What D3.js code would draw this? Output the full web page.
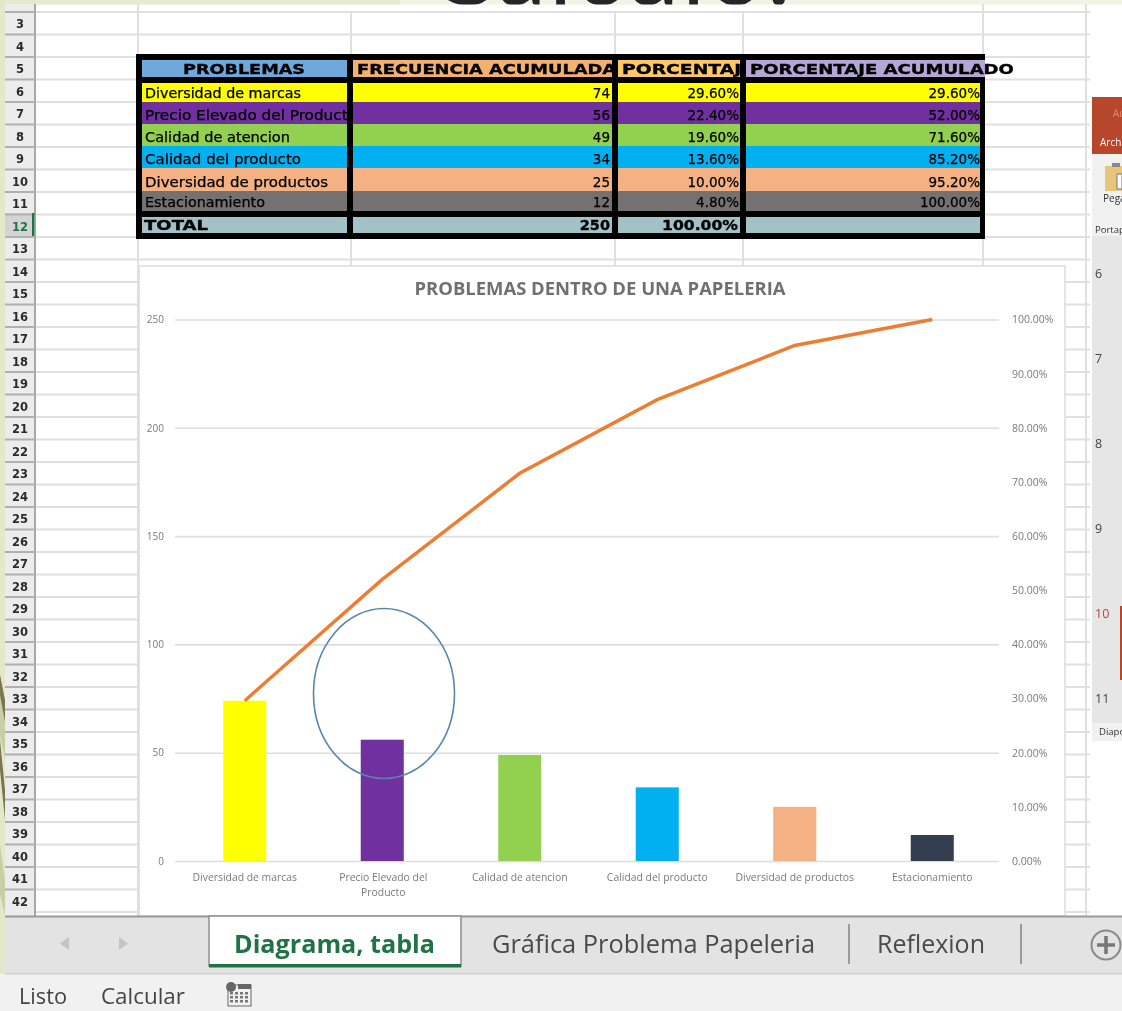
<!DOCTYPE html>
<html><head><meta charset="utf-8">
<script src="https://cdnjs.cloudflare.com/ajax/libs/d3/7.8.5/d3.min.js"></script>
<style>
html,body{margin:0;padding:0;background:#fff;overflow:hidden}
svg{display:block;filter:blur(.6px)}
text{font-family:"DejaVu Sans",sans-serif}
</style></head><body>
<svg id="c" width="1122" height="1011"></svg>
<script>
// ---- data ----
const categories=["Diversidad de marcas","Precio Elevado del Producto","Calidad de atencion","Calidad del producto","Diversidad de productos","Estacionamiento"];
const frequency=[74,56,49,34,25,12];
const percentage=[29.6,22.4,19.6,13.6,10,4.8];
const cumulative=[29.6,52,71.6,85.2,95.2,100];
const headers=["PROBLEMAS","FRECUENCIA ACUMULADA","PORCENTAJE","PORCENTAJE ACUMULADO"];
const totals=["TOTAL","250","100.00%",""];
const leftTicks=[0,50,100,150,200,250];
const rightTicks=[0,10,20,30,40,50,60,70,80,90,100];
const xLabels=[["Diversidad de marcas"],["Precio Elevado del","Producto"],["Calidad de atencion"],["Calidad del producto"],["Diversidad de productos"],["Estacionamiento"]];
const rowNumbers=d3.range(2,43);
const sheetTabs=["Diagrama, tabla","Gráfica Problema Papeleria","Reflexion"];
const slideNumbers=[6,7,8,9,10,11];
// ---- styles ----
const tableColors=["#ffff00","#7030a0","#92d050","#00b0f0","#f4b183","#767171"];
const barColors=["#ffff00","#7030a0","#92d050","#00b0f0","#f4b183","#333f50"];
const headColors=["#6fa8dc","#f4b06e","#ffc866","#b4a7d6"];
const cols=[[142,347],[353,612],[618,740],[746,980]];
const rowsY=[[83,102],[102,124],[124,146],[146,168],[168,191],[191,211]];

const svg=d3.select("#c");
const defs=svg.append("defs");
cols.forEach((c,i)=>defs.append("clipPath").attr("id","col"+i).append("rect").attr("x",c[0]).attr("y",50).attr("width",c[1]-c[0]).attr("height",190));
defs.append("clipPath").attr("id","top").append("rect").attr("x",0).attr("y",0).attr("width",1122).attr("height",4.5);

const R=(g,x,y,w,h,f)=>g.append("rect").attr("x",x).attr("y",y).attr("width",w).attr("height",h).attr("fill",f);

// slide backdrop
R(svg,0,0,1122,1011,"#fff");
R(svg,0,0,1122,4.5,"#f1f4e4");
R(svg,0,0,400,4.5,"#e6ebcf");
R(svg,0,0,5,1011,"#e2e8c9");
const streaks=svg.append("g");
[["0,675 5,705 5,760 0,735","#c9cfa5"],["0,675 5,700 5,722 0,695","#7d7451"],["0,740 5,790 5,820 0,770","#7d7451"],["0,845 5,880 5,915 0,895","#c9cfa5"]]
 .forEach(p=>streaks.append("polygon").attr("points",p[0]).attr("fill",p[1]));
svg.append("text").attr("clip-path","url(#top)").attr("x",610).attr("y",5).attr("text-anchor","middle")
   .style("font-family","Lato").style("font-size","98px").attr("fill","#262626").attr("textLength",362).text("Cálculo:");

// spreadsheet grid
const grid=svg.append("g").attr("stroke","#e0e0e0").attr("stroke-width",2);
d3.range(0,41).forEach(i=>grid.append("line").attr("x1",35).attr("x2",1090).attr("y1",12+i*22.5).attr("y2",12+i*22.5));
[[138,4,916],[351,12,266],[615,12,266],[743,12,266],[983,4,266],[1086,4,916]].forEach(v=>grid.append("line").attr("x1",v[0]).attr("x2",v[0]).attr("y1",v[1]).attr("y2",v[2]));

// row header
const rh=svg.append("g");
R(rh,5,4.5,30,912,"#ececec");
rh.append("line").attr("x1",35).attr("x2",35).attr("y1",4).attr("y2",916).attr("stroke","#a8a8a8").attr("stroke-width",2);
R(rh,5,213,30,23,"#d4d4d4");
rowNumbers.forEach(n=>{
  const y=12+(n-3)*22.5;
  rh.append("line").attr("x1",5).attr("x2",35).attr("y1",y).attr("y2",y).attr("stroke","#b0b0b0").attr("stroke-width",2);
  if(n>2) rh.append("text").attr("x",20).attr("y",y+16).attr("text-anchor","middle")
    .style("font-size","11.5px").style("font-weight","bold").attr("fill",n===12?"#217346":"#2b2b2b").text(n);
});
R(rh,32,213,2.5,23,"#217346");

// table
const t=svg.append("g");
R(t,136,54,849,185,"#000");
cols.forEach((c,i)=>{
  R(t,c[0],60,(i===3?985:c[1])-c[0],17,headColors[i]);
  rowsY.forEach((r,j)=>R(t,c[0],r[0],c[1]-c[0],r[1]-r[0],tableColors[j]));
  R(t,c[0],217,c[1]-c[0],16,"#a2c2c7");
});
const hf=s=>s.style("font-size","14.5px").style("font-weight","bold").attr("fill","#000").attr("stroke","#000").attr("stroke-width",.35).attr("lengthAdjust","spacingAndGlyphs");
hf(t.append("text").attr("x",244).attr("y",74).attr("text-anchor","middle").attr("textLength",122)).text(headers[0]);
hf(t.append("text").attr("clip-path","url(#col1)").attr("x",357).attr("y",74).attr("textLength",259)).text(headers[1]);
hf(t.append("text").attr("clip-path","url(#col2)").attr("x",622).attr("y",74).attr("textLength",132)).text(headers[2]);
hf(t.append("text").attr("x",750).attr("y",74).attr("textLength",264)).text(headers[3]);
const cell=(x,y,s,anchor,len,clip)=>{
  const e=t.append("text").attr("x",x).attr("y",y).attr("text-anchor",anchor)
    .style("font-size","13.5px").attr("fill","#000").attr("stroke","#000").attr("stroke-width",.25).text(s);
  if(len) e.attr("textLength",len).attr("lengthAdjust","spacingAndGlyphs");
  if(clip) e.attr("clip-path","url(#col0)");
};
const nameW=[156,212,145,156,183,120];
categories.forEach((c,j)=>{
  const y=rowsY[j][1]-4;
  cell(145,y,c,"start",nameW[j],true);
  cell(610,y,frequency[j],"end");
  cell(739,y,percentage[j].toFixed(2)+"%","end");
  cell(980,y,cumulative[j].toFixed(2)+"%","end");
});
hf(t.append("text").attr("x",144).attr("y",230).attr("textLength",64)).text(totals[0]);
hf(t.append("text").attr("x",610).attr("y",230).attr("text-anchor","end")).text(totals[1]);
hf(t.append("text").attr("x",738).attr("y",230).attr("text-anchor","end").attr("textLength",76)).text(totals[2]);

// chart area
R(svg,139,266,926,650,"#fff").attr("stroke","#dcdcdc").attr("stroke-width",1.5);
svg.append("text").attr("x",600).attr("y",295).attr("text-anchor","middle")
  .style("font-family","'Open Sans'").style("font-size","18px").style("font-weight","bold")
  .attr("fill","#707070").attr("textLength",371).attr("lengthAdjust","spacingAndGlyphs").text("PROBLEMAS DENTRO DE UNA PAPELERIA");

const x=d3.scaleBand().domain(categories).range([176,1001]).paddingInner(.687).paddingOuter(.3435);
const y=d3.scaleLinear().domain([0,250]).range([861,319.5]);
const y2=d3.scaleLinear().domain([0,100]).range([861,319.5]);

const gl=svg.append("g").attr("transform","translate(175,0)")
  .call(d3.axisLeft(y).tickValues(leftTicks).tickSize(-824).tickPadding(11));
gl.select(".domain").remove();
gl.selectAll("line").attr("stroke","#dedede").attr("stroke-width",1.6);
gl.selectAll("text").style("font-family","'Open Sans'").style("font-size","10px").attr("fill","#7a7a7a");

const gr=svg.append("g").attr("transform","translate(1012,0)")
  .call(d3.axisRight(y2).tickValues(rightTicks).tickSize(0).tickPadding(0).tickFormat(d=>d.toFixed(2)+"%"));
gr.select(".domain").remove();
gr.selectAll("text").style("font-family","'Open Sans'").style("font-size","10.5px").attr("fill","#7a7a7a");

svg.append("g").selectAll("rect").data(categories).join("rect")
  .attr("x",d=>x(d)).attr("width",x.bandwidth())
  .attr("y",(d,i)=>y(frequency[i])).attr("height",(d,i)=>y(0)-y(frequency[i]))
  .attr("fill",(d,i)=>barColors[i]);

const cx=d=>x(d)+x.bandwidth()/2;
svg.append("path").datum(categories).attr("fill","none").attr("stroke","#ed7d31").attr("stroke-width",3.4)
  .attr("d",d3.line().x(cx).y((d,i)=>y2(cumulative[i])));

svg.append("ellipse").attr("cx",384).attr("cy",693.5).attr("rx",70.5).attr("ry",85).attr("fill","none")
  .attr("stroke","#5a86ad").attr("stroke-width",1.6);

const xl=svg.append("g");
categories.forEach((c,i)=>{
  xLabels[i].forEach((s,k)=>xl.append("text").attr("x",cx(c)+(i===1?1:0)).attr("y",881+k*14.5).attr("text-anchor","middle")
    .style("font-family","'Open Sans'").style("font-size","10.4px").attr("fill","#7a7a7a").text(s));
});

// powerpoint panel
const pp=svg.append("g");
R(pp,1092,97,30,57,"#b7472a");
pp.append("text").attr("x",1113).attr("y",117).style("font-family","'Open Sans'").style("font-size","10px").attr("fill","#e08a70").text("Au");
pp.append("text").attr("x",1100).attr("y",146).style("font-family","'Open Sans'").style("font-size","10px").attr("fill","#fff").text("Arch");
R(pp,1092,154,30,82,"#f1f1f1");
R(pp,1105,166,17,25,"#e9c57c");
R(pp,1117,174,5,15,"#fff").attr("stroke","#777");
R(pp,1112,163,8,4,"#8a8a8a");
pp.append("text").attr("x",1103).attr("y",202).style("font-family","'Open Sans'").style("font-size","10px").attr("fill","#333").text("Pega");
pp.append("text").attr("x",1095).attr("y",233).style("font-family","'Open Sans'").style("font-size","9.5px").attr("fill","#333").text("Portap");
R(pp,1092,236,30,487,"#e6e6e6");
R(pp,1092,723,30,18,"#f1f1f1");
pp.append("text").attr("x",1099).attr("y",735).style("font-family","'Open Sans'").style("font-size","9.5px").attr("fill","#333").text("Diapo");
slideNumbers.forEach((n,i)=>pp.append("text").attr("x",1095).attr("y",278+i*85)
  .style("font-family","'Open Sans'").style("font-size","12.5px").attr("fill",n===10?"#b7472a":"#444").text(n));
R(pp,1120,606,2,74,"#b7472a");

// sheet tabs
const tb=svg.append("g");
R(tb,5,916,1117,58,"#e3e3e3");
R(tb,0,974,1122,37,"#f1f1f1");
R(tb,5,915.5,1117,2,"#9a9a9a");
R(tb,5,973,1117,1.5,"#cfcfcf");
R(tb,209,916,252,50,"#fff").attr("stroke","#8f8f8f").attr("stroke-width",1.5);
R(tb,209,964,252,3.5,"#217346");
tb.append("path").attr("d","M69 937 L60 943.5 L69 950 Z").attr("fill","#c4c4c4");
tb.append("path").attr("d","M119 937 L128 943.5 L119 950 Z").attr("fill","#c4c4c4");
const tabText=(x0,w,s,bold,col)=>tb.append("text").attr("x",x0).attr("y",953)
  .style("font-family","'Open Sans'").style("font-size","25px").style("font-weight",bold?"bold":"normal")
  .attr("fill",col).attr("textLength",w).attr("lengthAdjust","spacingAndGlyphs").text(s);
tabText(234,201,sheetTabs[0],true,"#217346");
tabText(492,323,sheetTabs[1],false,"#4a4a4a");
tabText(877,108,sheetTabs[2],false,"#4a4a4a");
[849,1021].forEach(v=>R(tb,v-1,924,2,40,"#9a9a9a"));
tb.append("circle").attr("cx",1106).attr("cy",945).attr("r",14.5).attr("fill","none").attr("stroke","#8a8a8a").attr("stroke-width",2);
tb.append("path").attr("d","M1097 945 H1115 M1106 936 V954").attr("stroke","#777").attr("stroke-width",3.5);
const st=(x0,w,s)=>tb.append("text").attr("x",x0).attr("y",1004)
  .style("font-family","'Open Sans'").style("font-size","21px").attr("fill","#444").attr("textLength",w).attr("lengthAdjust","spacingAndGlyphs").text(s);
st(19,48,"Listo"); st(101,84,"Calcular");
tb.append("circle").attr("cx",231).attr("cy",987).attr("r",5).attr("fill","#666");
R(tb,228,985,23,21,"#fff").attr("stroke","#666").attr("fill-opacity",0);
R(tb,238,984,13,5,"#666");
d3.range(3).forEach(r=>d3.range(4).forEach(c=>R(tb,230+c*5,992+r*4,3,2.5,"#777")));
</script>
</body></html>
